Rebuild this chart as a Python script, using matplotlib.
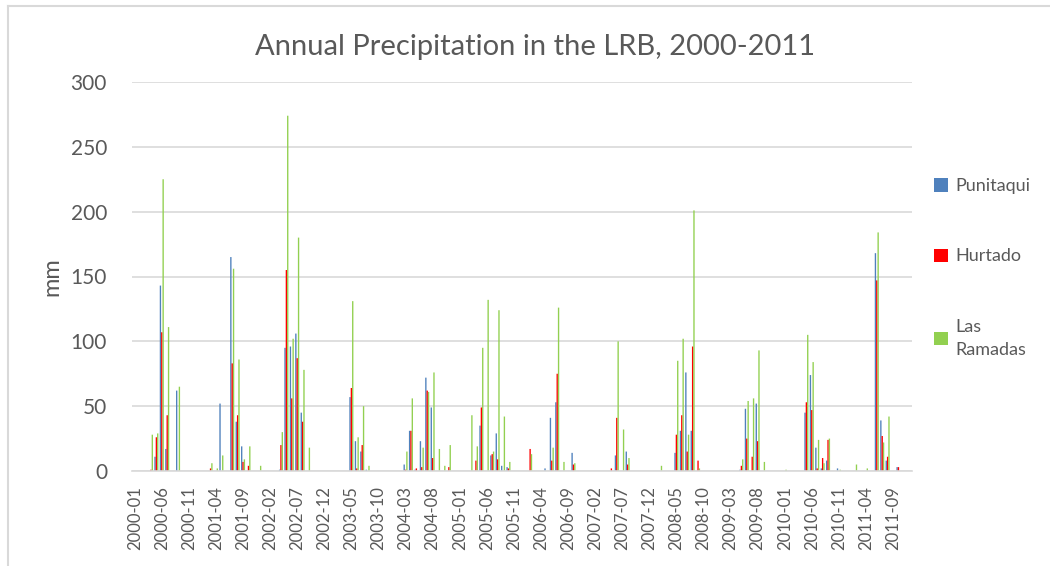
import numpy as np
import matplotlib
matplotlib.use("Agg")
import matplotlib.pyplot as plt
from matplotlib.patches import Patch
from matplotlib.lines import Line2D

# monthly precipitation (mm), 2000-01 .. 2011-12, one row per year
punitaqui = [
    0, 0, 0, 0, 11, 143, 17, 0, 62, 0, 0, 0,
    0, 0, 0, 0, 52, 0, 165, 38, 19, 0, 0, 0,
    0, 0, 0, 1, 95, 96, 106, 45, 0, 0, 0, 0,
    0, 0, 0, 0, 57, 23, 15, 1, 0, 0, 0, 0,
    0, 0, 5, 31, 1, 23, 72, 49, 0, 0, 0, 0,
    0, 0, 0, 0, 35, 0, 12, 29, 4, 3, 0, 0,
    0, 0, 0, 0, 2, 41, 53, 0, 0, 14, 0, 0,
    0, 0, 0, 0, 0, 12, 0, 15, 0, 0, 0, 0,
    0, 0, 0, 0, 14, 31, 76, 31, 0, 0, 0, 0,
    0, 0, 0, 0, 1, 48, 0, 52, 0, 0, 0, 0,
    0, 0, 0, 0, 45, 74, 18, 2, 8, 0, 2, 0,
    0, 0, 0, 0, 0, 168, 39, 8, 0, 3, 0, 0,
]
hurtado = [
    0, 0, 0, 1, 26, 107, 43, 0, 0, 0, 0, 0,
    0, 0, 2, 0, 0, 0, 83, 43, 7, 4, 0, 0,
    0, 0, 0, 20, 155, 56, 87, 38, 0, 0, 0, 0,
    0, 0, 0, 0, 64, 2, 20, 0, 0, 0, 0, 0,
    0, 0, 1, 31, 2, 3, 62, 10, 0, 0, 3, 0,
    0, 0, 0, 8, 49, 0, 13, 9, 0, 2, 0, 0,
    0, 17, 0, 0, 0, 8, 75, 0, 0, 5, 0, 0,
    0, 0, 0, 0, 2, 41, 0, 5, 0, 0, 0, 0,
    0, 0, 0, 0, 28, 43, 15, 96, 8, 0, 0, 0,
    0, 0, 0, 0, 4, 25, 11, 23, 0, 0, 0, 0,
    0, 0, 0, 0, 53, 47, 2, 10, 24, 0, 0, 0,
    0, 0, 0, 0, 0, 147, 27, 11, 0, 3, 0, 0,
]
las_ramadas = [
    0, 0, 0, 28, 29, 225, 111, 0, 65, 0, 0, 0,
    0, 0, 6, 2, 12, 0, 156, 86, 9, 19, 0, 4,
    0, 0, 0, 30, 274, 102, 180, 78, 18, 0, 0, 0,
    0, 0, 0, 0, 131, 26, 50, 4, 0, 0, 0, 0,
    0, 0, 15, 56, 0, 18, 61, 76, 17, 4, 20, 0,
    0, 0, 43, 19, 95, 132, 15, 124, 42, 7, 0, 0,
    0, 13, 0, 0, 0, 18, 126, 7, 0, 6, 0, 0,
    0, 0, 0, 0, 0, 100, 32, 10, 0, 0, 0, 0,
    0, 4, 0, 0, 85, 102, 28, 201, 2, 0, 0, 0,
    0, 0, 0, 0, 9, 54, 56, 93, 7, 0, 0, 0,
    1, 0, 0, 0, 105, 84, 24, 6, 25, 0, 1, 0,
    0, 5, 0, 2, 0, 184, 22, 42, 0, 0, 0, 0,
]
months = ["{}-{:02d}".format(y, m) for y in range(2000, 2012) for m in range(1, 13)]

series = [("Punitaqui", punitaqui, "#4F81BD"),
          ("Hurtado", hurtado, "#FF0000"),
          ("Las\nRamadas", las_ramadas, "#92D050")]

plt.rcParams['font.family'] = ['Lato', 'DejaVu Sans']
grey = "#595959"

fig = plt.figure(figsize=(10.5, 5.66), dpi=100)
ax = fig.add_axes([132 / 1050, 1 - 471 / 566, 780 / 1050, 389 / 566])

x = np.arange(len(months))
w = 0.25
for k, (name, vals, col) in enumerate(series):
    bars = ax.bar(x + (k - 1) * 0.25, vals, width=w, color=col, linewidth=0)
    for b in bars:
        b.set_snap(False)

ax.set_xlim(-0.5, len(months) - 0.5)
ax.set_ylim(0, 300)
ax.set_yticks(range(0, 301, 50))
ax.set_xticks(x[::5])
ax.set_xticklabels(months[::5], rotation=90, fontsize=12, color=grey)
ax.tick_params(axis='y', labelsize=15, labelcolor=grey, length=0, pad=18)
ax.tick_params(axis='x', length=0, pad=11)
ax.grid(axis='y', color="#D9D9D9", linewidth=1.2)
ax.set_axisbelow(True)
for s in ['top', 'right', 'left']:
    ax.spines[s].set_visible(False)
ax.spines['bottom'].set_color("#D9D9D9")
ax.spines['bottom'].set_linewidth(1.2)

ax.set_ylabel("mm", fontsize=17, color=grey, labelpad=6)
fig.text(535 / 1050, 1 - 47 / 566, "Annual Precipitation in the LRB, 2000-2011",
         ha='center', va='center', fontsize=21, color=grey)

handles = [Patch(facecolor=c, edgecolor='none') for _, _, c in series]
leg = fig.legend(handles, [n for n, _, _ in series], loc='upper left',
                 bbox_to_anchor=(918 / 1050, 1 - 162 / 566), frameon=False,
                 fontsize=13, labelcolor=grey, handlelength=0.75, handleheight=0.75,
                 handletextpad=0.4, labelspacing=3.0)
for t in leg.get_texts():
    t.set_linespacing(1.6)

# chart area border (top and left edges visible)
fig.add_artist(Line2D([8 / 1050, 1], [1 - 6 / 566] * 2, color="#D9D9D9", lw=1.5))
fig.add_artist(Line2D([8 / 1050] * 2, [0, 1 - 6 / 566], color="#D9D9D9", lw=1.5))

fig.savefig("out.png", dpi=100)
